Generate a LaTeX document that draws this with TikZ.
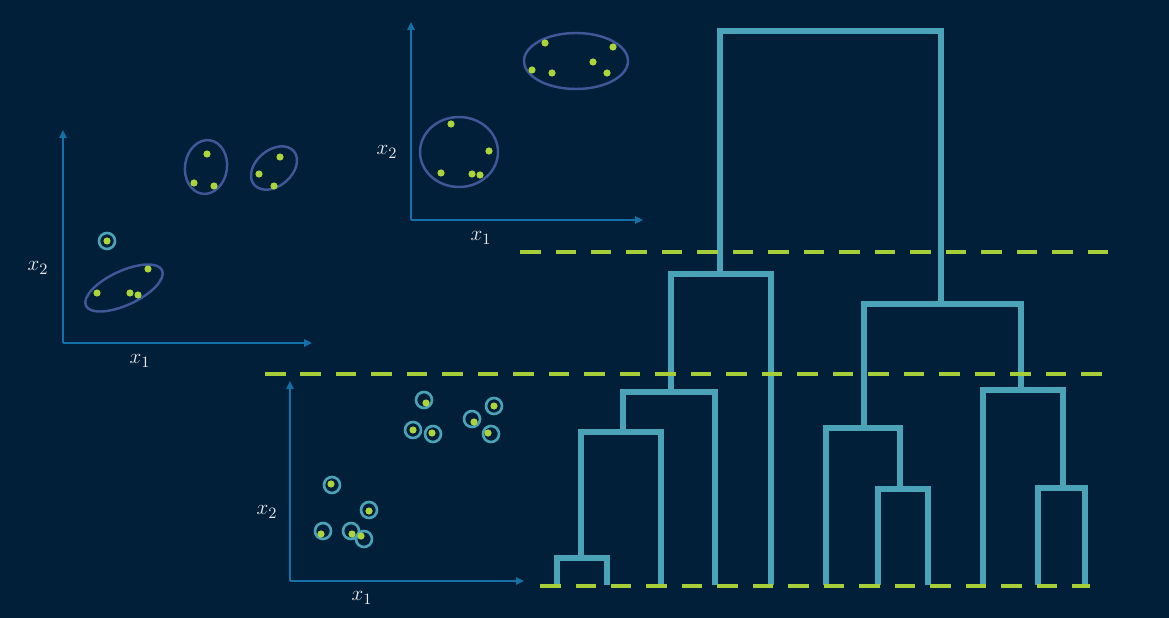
\documentclass[tikz,border=0pt]{standalone}
\usetikzlibrary{arrows.meta}
\definecolor{bgnavy}{RGB}{1,31,56}
\definecolor{dendroteal}{RGB}{75,163,184}
\definecolor{cutgreen}{RGB}{166,206,57}
\definecolor{axisblue}{RGB}{22,112,168}
\definecolor{clusterblue}{RGB}{62,88,152}
\definecolor{dotgreen}{RGB}{172,212,60}
\begin{document}
\begin{tikzpicture}[x=0.02cm, y=-0.02cm, >={Triangle[length=4.5pt,width=4pt]},
    dendro/.style={draw=dendroteal, line width=3.2pt},
    cutline/.style={draw=cutgreen, line width=2.6pt, dash pattern=on 0.41cm off 0.30cm},
    axis/.style={draw=axisblue, line width=1.2pt, ->},
    cluster/.style={draw=clusterblue, line width=1.4pt},
    single/.style={draw=dendroteal, line width=1.5pt},
    lbl/.style={text=white!92!black, font=\fontsize{13}{15}\selectfont}]
    \fill[bgnavy] (0,0) rectangle (1169,618);
    \useasboundingbox (0,0) rectangle (1169,618);

    % dendrogramm
    \draw[dendro] (557,585) -- (557,558) -- (607,558) -- (607,585);
    \draw[dendro] (581,558) -- (581,432) -- (661,432) -- (661,585);
    \draw[dendro] (623,432) -- (623,392) -- (715,392) -- (715,585);
    \draw[dendro] (671,392) -- (671,274) -- (771,274) -- (771,585);
    \draw[dendro] (720,274) -- (720,31) -- (941,31) -- (941,304);
    \draw[dendro] (864,428) -- (864,304) -- (1021,304) -- (1021,390);
    \draw[dendro] (826,585) -- (826,428) -- (900,428) -- (900,489);
    \draw[dendro] (878,585) -- (878,489) -- (928,489) -- (928,585);
    \draw[dendro] (983,585) -- (983,390) -- (1063,390) -- (1063,488);
    \draw[dendro] (1038,585) -- (1038,488) -- (1085,488) -- (1085,585);

    % Schnittlinien
    \draw[cutline] (520,252) -- (1111,252);
    \draw[cutline] (265,374) -- (1106,374);
    \draw[cutline] (540,586) -- (1090,586);

    % 4 Cluster
    \draw[axis] (63,343) -- (63,130);
    \draw[axis] (63,343) -- (312,343);
    \node[lbl] (xzwei1) at (38,268) {$x_2$};
    \node[lbl] (xeins1) at (140,361) {$x_1$};
    \draw[cluster, rotate around={25:(124,288)}] (124,288) ellipse [x radius=42, y radius=17];
    \draw[cluster, rotate around={-8:(206,167)}] (206,167) ellipse [x radius=21, y radius=27];
    \draw[cluster, rotate around={40:(274,168)}] (274,168) ellipse [x radius=26, y radius=18];
    \draw[single] (107,241) circle [radius=8];
    \foreach \p in {(107,241),(97,293),(130,293),(138,295),(148,269),
                    (207,154),(194,183),(214,186),(280,157),(259,174),(274,186)}
        \fill[dotgreen] \p circle [radius=3.6];

    % 2 Cluster
    \draw[axis] (411,220) -- (411,22);
    \draw[axis] (411,220) -- (643,220);
    \node[lbl] (xzwei2) at (387,152) {$x_2$};
    \node[lbl] (xeins2) at (481,238) {$x_1$};
    \draw[cluster] (459,152) ellipse [x radius=39, y radius=35];
    \draw[cluster] (576,61) ellipse [x radius=52, y radius=28];
    \foreach \p in {(451,124),(489,151),(441,173),(472,174),(480,175),
                    (545,43),(613,47),(593,62),(532,70),(552,73),(607,73)}
        \fill[dotgreen] \p circle [radius=3.6];

    % jeder Punkt ein Cluster
    \draw[axis] (290,581) -- (290,381);
    \draw[axis] (290,581) -- (524,581);
    \node[lbl] (xzwei3) at (267,512) {$x_2$};
    \node[lbl] (xeins3) at (362,598) {$x_1$};
    \foreach \c in {(424,400),(413,430),(433,434),(472,419),(494,406),(491,434),
                    (332,485),(369,510),(323,531),(351,531),(364,539)}
        \draw[single] \c circle [radius=8];
    \foreach \p in {(426,403),(413,430),(432,433),(474,422),(494,406),(488,433),
                    (331,484),(369,511),(321,534),(352,534),(361,536)}
        \fill[dotgreen] \p circle [radius=3.6];
\end{tikzpicture}
\end{document}
